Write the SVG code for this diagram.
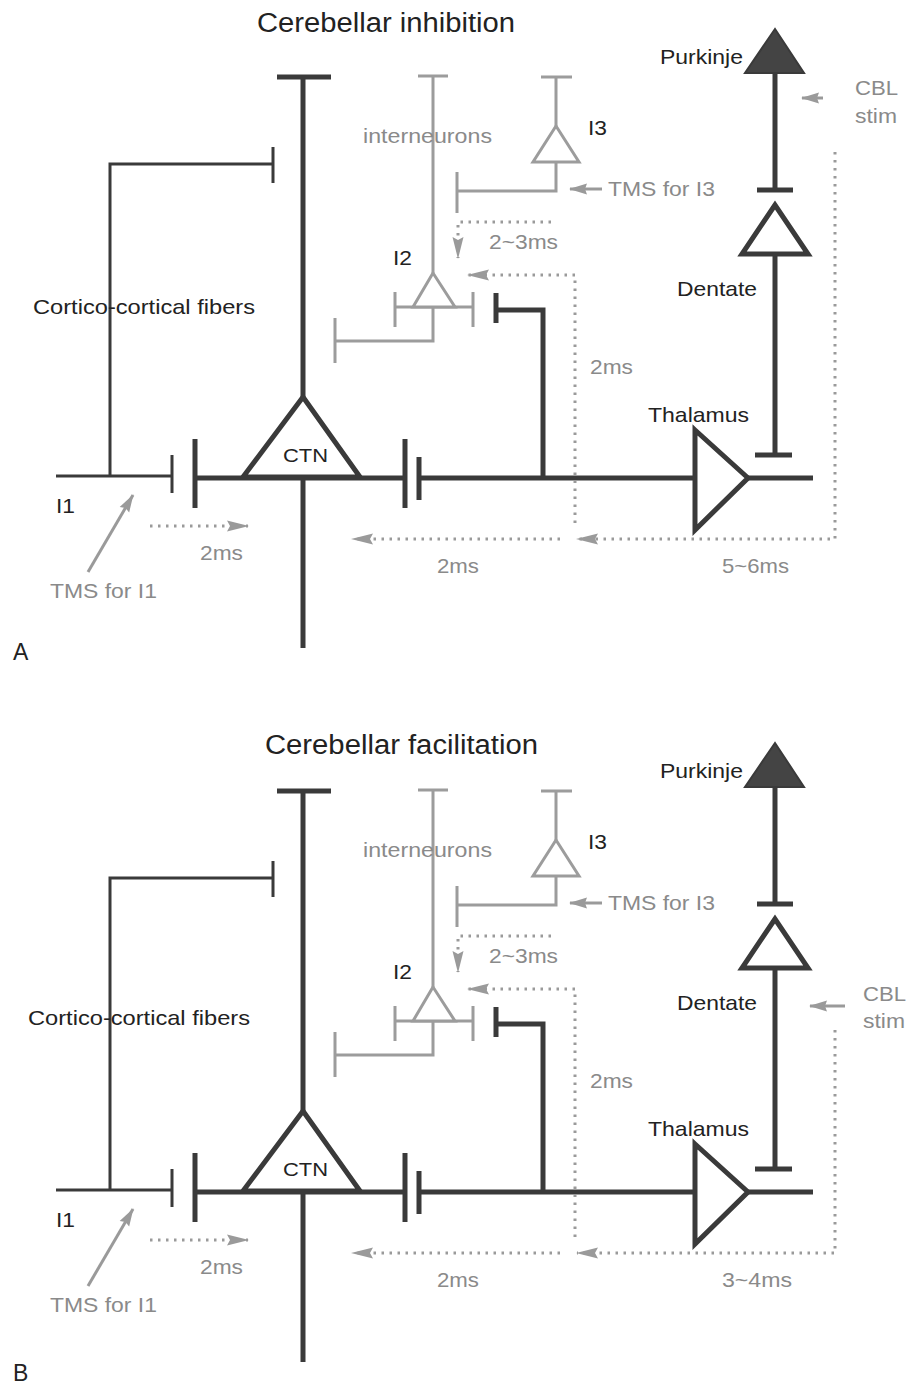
<svg xmlns="http://www.w3.org/2000/svg" width="910" height="1386" viewBox="0 0 910 1386">
<style>
text{font-family:"Liberation Sans",Arial,Helvetica,sans-serif}
.t{fill:#222;font-size:21px}
.g{fill:#8a8a8a;font-size:21px}
.ttl{fill:#222;font-size:27px}
.pl{fill:#222;font-size:23px}
.dk{stroke:#3a3a3a;stroke-width:5;fill:none}
.dkt{stroke:#3a3a3a;stroke-width:3;fill:none}
.tri{stroke:#3a3a3a;stroke-width:5;fill:#fff;stroke-linejoin:miter}
.gr{stroke:#9c9c9c;stroke-width:3;fill:none}
.grtri{stroke:#9c9c9c;stroke-width:3;fill:#fff}
.dot{stroke:#9a9a9a;stroke-width:3;fill:none;stroke-dasharray:2.5 5.5}
.sol{stroke:#9a9a9a;stroke-width:3;fill:none}
</style>
<defs>
<marker id="dh" markerUnits="userSpaceOnUse" viewBox="0 0 22 11" markerWidth="22" markerHeight="11" refX="21" refY="5.5" orient="auto" overflow="visible">
<path d="M0,0 L22,5.5 L0,11 L3,5.5 z" fill="#9a9a9a"/>
</marker>
<marker id="sh" markerUnits="userSpaceOnUse" viewBox="0 0 18 11" markerWidth="18" markerHeight="11" refX="17" refY="5.5" orient="auto" overflow="visible">
<path d="M0,0 L18,5.5 L0,11 L2,5.5 z" fill="#9a9a9a"/>
</marker>
</defs>

<!-- ================= PANEL A ================= -->
<g id="panelA">
<text class="ttl" x="257" y="32" textLength="258" lengthAdjust="spacingAndGlyphs">Cerebellar inhibition</text>
<text class="pl" x="13" y="660">A</text>

<g id="A-ctn">
<path class="dk" d="M277,77 H331 M303,77 V397 M303,478 V648"/>
<polygon class="tri" points="303,397 243,477 360,477"/>
<path class="dk" d="M195,478 H405"/>
<path class="dk" d="M195,439 V508 M405,439 V508"/>
<text class="t" x="283" y="462" style="font-size:19px" textLength="45" lengthAdjust="spacingAndGlyphs">CTN</text>
</g>

<g id="A-i1">
<path class="dkt" d="M56,476 H172 M172,455 V493"/>
<text class="t" x="56" y="513" textLength="19" lengthAdjust="spacingAndGlyphs">I1</text>
</g>

<g id="A-cortico">
<path class="dkt" d="M110,476 V164 H273 M273,147 V183"/>
<text class="t" x="33" y="314" textLength="222" lengthAdjust="spacingAndGlyphs">Cortico-cortical fibers</text>
</g>

<g id="A-i2">
<path class="gr" d="M418,76 H448 M433,76 V273 M395,307 H473 M395,292 V327 M473,292 V327 M433,307 V341 H335 M335,318 V363"/>
<polygon class="grtri" points="433,273 413,307 455,307"/>
<text class="t" x="393" y="265" textLength="19" lengthAdjust="spacingAndGlyphs">I2</text>
<text class="g" x="363" y="143" textLength="129" lengthAdjust="spacingAndGlyphs">interneurons</text>
</g>

<g id="A-i3">
<path class="gr" d="M541,77 H572 M556,77 V126 M556,162 V191 H457 M457,172 V213"/>
<polygon class="grtri" points="556,126 533,162 579,162"/>
<text class="t" x="588" y="135" textLength="19" lengthAdjust="spacingAndGlyphs">I3</text>
</g>

<g id="A-thalamus">
<polygon class="tri" points="695,430 748,478 695,530"/>
<path class="dk" d="M748,478 H813"/>
<text class="t" x="648" y="422" textLength="101" lengthAdjust="spacingAndGlyphs">Thalamus</text>
</g>

<g id="A-dentate">
<polygon class="tri" points="775,205 742,254 808,254"/>
<text class="t" x="677" y="296" textLength="80" lengthAdjust="spacingAndGlyphs">Dentate</text>
</g>

<g id="A-purkinje">
<polygon points="775,29 745,73 804,73" fill="#444" stroke="#3a3a3a" stroke-width="2"/>
<text class="t" x="660" y="64" textLength="83" lengthAdjust="spacingAndGlyphs">Purkinje</text>
</g>

<g id="A-connectors">
<path class="dk" d="M419,457 V500 M419,478 H695"/>
<path class="dk" d="M496,293 V323 M496,310 H543 V478"/>
<path class="dk" d="M775,254 V455 M755,455 H792"/>
<path class="dk" d="M775,73 V190 M757,190 H793"/>
<path class="dot" d="M551,222 H458 V258" marker-end="url(#dh)"/>
<path class="dot" d="M575,523 V275 H468" marker-end="url(#dh)"/>
<path class="dot" d="M150,526 H248" marker-end="url(#dh)"/>
<path class="dot" d="M560,539 H352" marker-end="url(#dh)"/>
<path class="dot" d="M835,152 V539 H577" marker-end="url(#dh)"/>
<path class="sol" d="M88,572 L133,495" marker-end="url(#sh)"/>
<path class="sol" d="M602,189 H570" marker-end="url(#sh)"/>
<path class="sol" d="M823,98 H802" marker-end="url(#sh)"/>
</g>

<g id="A-labels">
<text class="g" x="489" y="249" textLength="69" lengthAdjust="spacingAndGlyphs">2~3ms</text>
<text class="g" x="608" y="196" textLength="107" lengthAdjust="spacingAndGlyphs">TMS for I3</text>
<text class="g" x="855" y="95" textLength="43" lengthAdjust="spacingAndGlyphs">CBL</text>
<text class="g" x="855" y="123" textLength="42" lengthAdjust="spacingAndGlyphs">stim</text>
<text class="g" x="590" y="374" textLength="43" lengthAdjust="spacingAndGlyphs">2ms</text>
<text class="g" x="200" y="560" textLength="43" lengthAdjust="spacingAndGlyphs">2ms</text>
<text class="g" x="437" y="573" textLength="42" lengthAdjust="spacingAndGlyphs">2ms</text>
<text class="g" x="722" y="573" textLength="67" lengthAdjust="spacingAndGlyphs">5~6ms</text>
<text class="g" x="50" y="598" textLength="107" lengthAdjust="spacingAndGlyphs">TMS for I1</text>
</g>
</g>

<!-- ================= PANEL B ================= -->
<g id="panelB" transform="translate(0,714)">
<text class="ttl" x="265" y="40" textLength="273" lengthAdjust="spacingAndGlyphs">Cerebellar facilitation</text>
<text class="pl" x="13" y="667">B</text>

<g id="B-ctn">
<path class="dk" d="M277,77 H331 M303,77 V397 M303,478 V648"/>
<polygon class="tri" points="303,397 243,477 360,477"/>
<path class="dk" d="M195,478 H405"/>
<path class="dk" d="M195,439 V508 M405,439 V508"/>
<text class="t" x="283" y="462" style="font-size:19px" textLength="45" lengthAdjust="spacingAndGlyphs">CTN</text>
</g>

<g id="B-i1">
<path class="dkt" d="M56,476 H172 M172,455 V493"/>
<text class="t" x="56" y="513" textLength="19" lengthAdjust="spacingAndGlyphs">I1</text>
</g>

<g id="B-cortico">
<path class="dkt" d="M110,476 V164 H273 M273,147 V183"/>
<text class="t" x="28" y="311" textLength="222" lengthAdjust="spacingAndGlyphs">Cortico-cortical fibers</text>
</g>

<g id="B-i2">
<path class="gr" d="M418,76 H448 M433,76 V273 M395,307 H473 M395,292 V327 M473,292 V327 M433,307 V341 H335 M335,318 V363"/>
<polygon class="grtri" points="433,273 413,307 455,307"/>
<text class="t" x="393" y="265" textLength="19" lengthAdjust="spacingAndGlyphs">I2</text>
<text class="g" x="363" y="143" textLength="129" lengthAdjust="spacingAndGlyphs">interneurons</text>
</g>

<g id="B-i3">
<path class="gr" d="M541,77 H572 M556,77 V126 M556,162 V191 H457 M457,172 V213"/>
<polygon class="grtri" points="556,126 533,162 579,162"/>
<text class="t" x="588" y="135" textLength="19" lengthAdjust="spacingAndGlyphs">I3</text>
</g>

<g id="B-thalamus">
<polygon class="tri" points="695,430 748,478 695,530"/>
<path class="dk" d="M748,478 H813"/>
<text class="t" x="648" y="422" textLength="101" lengthAdjust="spacingAndGlyphs">Thalamus</text>
</g>

<g id="B-dentate">
<polygon class="tri" points="775,205 742,254 808,254"/>
<text class="t" x="677" y="296" textLength="80" lengthAdjust="spacingAndGlyphs">Dentate</text>
</g>

<g id="B-purkinje">
<polygon points="775,29 745,73 804,73" fill="#444" stroke="#3a3a3a" stroke-width="2"/>
<text class="t" x="660" y="64" textLength="83" lengthAdjust="spacingAndGlyphs">Purkinje</text>
</g>

<g id="B-connectors">
<path class="dk" d="M419,457 V500 M419,478 H695"/>
<path class="dk" d="M496,293 V323 M496,310 H543 V478"/>
<path class="dk" d="M775,254 V455 M755,455 H792"/>
<path class="dk" d="M775,73 V190 M757,190 H793"/>
<path class="dot" d="M551,222 H458 V258" marker-end="url(#dh)"/>
<path class="dot" d="M575,523 V275 H468" marker-end="url(#dh)"/>
<path class="dot" d="M150,526 H248" marker-end="url(#dh)"/>
<path class="dot" d="M560,539 H352" marker-end="url(#dh)"/>
<path class="dot" d="M835,316 V539 H577" marker-end="url(#dh)"/>
<path class="sol" d="M88,572 L133,495" marker-end="url(#sh)"/>
<path class="sol" d="M602,189 H570" marker-end="url(#sh)"/>
<path class="sol" d="M845,292 H810" marker-end="url(#sh)"/>
</g>

<g id="B-labels">
<text class="g" x="489" y="249" textLength="69" lengthAdjust="spacingAndGlyphs">2~3ms</text>
<text class="g" x="608" y="196" textLength="107" lengthAdjust="spacingAndGlyphs">TMS for I3</text>
<text class="g" x="863" y="287" textLength="43" lengthAdjust="spacingAndGlyphs">CBL</text>
<text class="g" x="863" y="314" textLength="42" lengthAdjust="spacingAndGlyphs">stim</text>
<text class="g" x="590" y="374" textLength="43" lengthAdjust="spacingAndGlyphs">2ms</text>
<text class="g" x="200" y="560" textLength="43" lengthAdjust="spacingAndGlyphs">2ms</text>
<text class="g" x="437" y="573" textLength="42" lengthAdjust="spacingAndGlyphs">2ms</text>
<text class="g" x="722" y="573" textLength="70" lengthAdjust="spacingAndGlyphs">3~4ms</text>
<text class="g" x="50" y="598" textLength="107" lengthAdjust="spacingAndGlyphs">TMS for I1</text>
</g>
</g>
</svg>
